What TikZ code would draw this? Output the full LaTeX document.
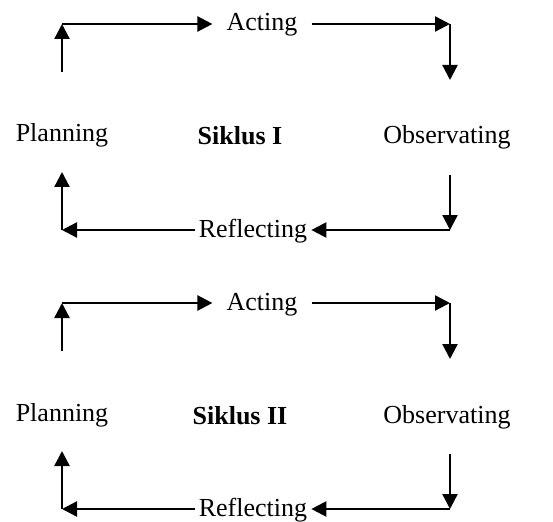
\documentclass[tikz,border=0pt]{standalone}
\usepackage{fontspec}
\setmainfont{Liberation Serif}
\usetikzlibrary{arrows.meta}
\tikzset{
  lbl/.style={font=\fontsize{26}{30}\selectfont, inner sep=0pt, anchor=base},
  arr/.style={line width=2.3pt, -{Triangle[length=15pt,width=15pt]}},
}

\begin{document}
\begin{tikzpicture}[x=1pt,y=-1pt]
  \useasboundingbox (0,0) rectangle (553,521);
  \foreach \i/\lab/\dy in {1/I/0,2/II/279}{
    \begin{scope}[yshift=-\dy pt]
      % labels
      \node[lbl] (pl\i) at (62,142) {Planning};
      \node[lbl, font=\fontsize{26}{30}\selectfont\bfseries] (sk\i) at (240,145) {Siklus \lab};
      \node[lbl] (ob\i) at (447,144) {Observating};
      \node[lbl, inner xsep=14pt] (ac\i) at (262,31) {Acting};
      \node[lbl, inner xsep=4pt] (rf\i) at (253,237) {Reflecting};
      % corners
      \coordinate (pu\i) at (62,72);
      \coordinate (tl\i) at (62,24);
      \coordinate (tr\i) at (450,24);
      \coordinate (od\i) at (450,80);
      \coordinate (os\i) at (450,175);
      \coordinate (br\i) at (450,230);
      \coordinate (bl\i) at (62,230);
      \coordinate (pd\i) at (62,172);
      % cycle
      \draw[arr] (pu\i) -- (tl\i);
      \draw[arr] (tl\i) -- (tl\i -| ac\i.west);
      \draw[arr] (tr\i -| ac\i.east) -- (tr\i);
      \draw[arr] (tr\i) -- (od\i);
      \draw[arr] (os\i) -- (br\i);
      \draw[arr] (br\i) -- (br\i -| rf\i.east);
      \draw[arr] (bl\i -| rf\i.west) -- (bl\i);
      \draw[arr] (bl\i) -- (pd\i);
    \end{scope}
  }
\end{tikzpicture}
\end{document}
